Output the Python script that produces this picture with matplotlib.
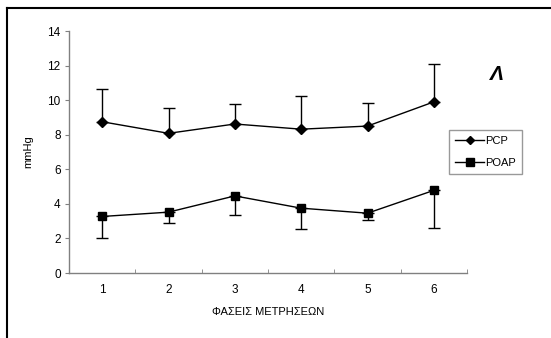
import matplotlib
matplotlib.use("Agg")
import matplotlib.pyplot as plt
from matplotlib.lines import Line2D
import numpy as np

phases = ["1", "2", "3", "4", "5", "6"]
pcp = [8.75, 8.08, 8.62, 8.32, 8.5, 9.9]
pcp_err_up = [1.88, 1.47, 1.15, 1.9, 1.32, 2.18]
poap = [3.27, 3.52, 4.46, 3.75, 3.46, 4.78]
poap_err_down = [1.27, 0.65, 1.12, 1.23, 0.39, 2.18]
yticks = [0, 2, 4, 6, 8, 10, 12, 14]

plt.rcParams['font.family'] = ['Liberation Sans', 'DejaVu Sans']

fig = plt.figure(figsize=(5.51, 3.38), dpi=100)
fig.patch.set_facecolor('white')
# outer frame lines (top and left)
fig.add_artist(Line2D([7/551, 1], [1 - 8/338, 1 - 8/338], color='black', lw=1.5, transform=fig.transFigure))
fig.add_artist(Line2D([7/551, 7/551], [0, 1 - 8/338], color='black', lw=1.5, transform=fig.transFigure))

ax = fig.add_axes([69/551, (338-273)/338, (467-69)/551, (273-31)/338])
x = np.arange(len(phases))
gray = '#808080'

ax.errorbar(x, pcp, yerr=[np.zeros(len(pcp)), pcp_err_up], color='black', lw=1,
            marker='D', ms=5, capsize=4, capthick=1, elinewidth=1)
ax.errorbar(x, poap, yerr=[poap_err_down, np.zeros(len(poap))], color='black', lw=1,
            marker='s', ms=6, capsize=4, capthick=1, elinewidth=1)

ax.set_xlim(-0.5, len(phases) - 0.5)
ax.set_ylim(0, 14)
ax.set_yticks(yticks)
ax.set_yticklabels([str(v) for v in yticks], fontsize=8.5)
ax.set_xticks(x)
ax.set_xticklabels(phases, fontsize=8.5)
ax.set_xticks(np.arange(len(phases)) + 0.5, minor=True)
ax.tick_params(axis='x', which='major', length=0, pad=8)
ax.tick_params(axis='x', which='minor', length=3, direction='in', color=gray)
ax.tick_params(axis='y', length=3, color=gray, pad=3)
for s in ['top', 'right']:
    ax.spines[s].set_visible(False)
for s in ['left', 'bottom']:
    ax.spines[s].set_color(gray)
    ax.spines[s].set_linewidth(1)

ax.set_xlabel('ΦΑΣΕΙΣ ΜΕΤΡΗΣΕΩΝ', fontsize=8, labelpad=8)
ax.set_ylabel('mmHg', fontsize=8, labelpad=10)

handles = [Line2D([], [], color='black', lw=1, marker='D', ms=4.5),
           Line2D([], [], color='black', lw=1, marker='s', ms=5.5)]
leg = ax.legend(handles, ['PCP', 'POAP'], loc='upper left', bbox_to_anchor=(449/551, 1 - 130/338),
                bbox_transform=fig.transFigure,
                fontsize=8, frameon=True, fancybox=False, edgecolor=gray, handlelength=2.6,
                borderpad=0.55, labelspacing=1.05, handletextpad=0.1, borderaxespad=0)
leg.get_frame().set_linewidth(1)

fig.text(497/551, 1 - 74/338, 'Λ', fontsize=15, fontweight='bold', style='italic', ha='center', va='center')

fig.savefig('out.png', dpi=100, facecolor='white')
